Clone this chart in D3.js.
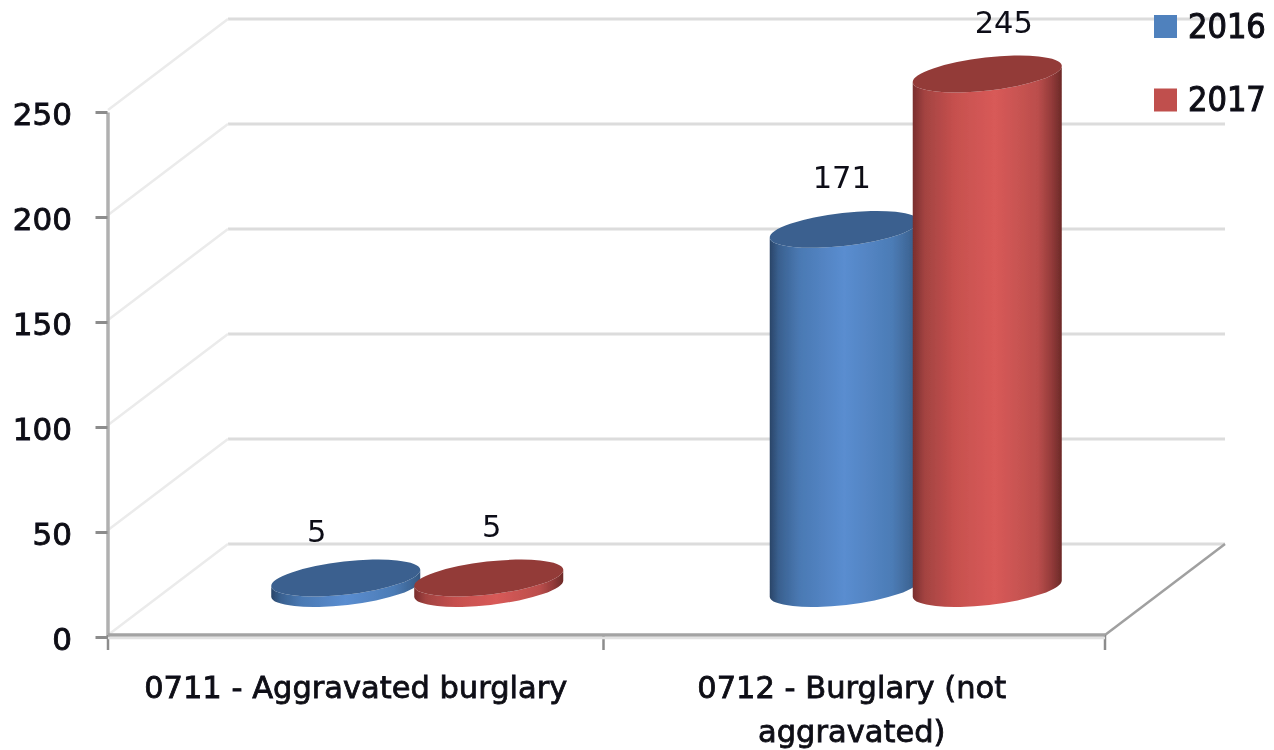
<!DOCTYPE html>
<html><head><meta charset="utf-8">
<script src="https://cdn.jsdelivr.net/npm/d3@7/dist/d3.min.js"></script>
<style>html,body{margin:0;background:#fff}svg{display:block}text{font-family:"DejaVu Sans",sans-serif;fill:#0a0a14}</style>
</head><body><svg id="c" width="1274" height="750"></svg>
<script>
const categories = ["0711 - Aggravated burglary", "0712 - Burglary (not aggravated)"];
const categoryLines = [["0711 - Aggravated burglary"], ["0712 - Burglary (not", "aggravated)"]];
const seriesNames = ["2016", "2017"];
const values2016 = [5, 171];
const values2017 = [5, 245];
const yTicks = [0, 50, 100, 150, 200, 250];
const colors = {
  "2016": {swatch:"#4f81bd", top:"#3b618f",
    stops:[[0,"#2a4568"],[.06,"#39608f"],[.2,"#4a79b3"],[.5,"#5a8dd0"],[.82,"#4c7cb6"],[.93,"#3f6899"],[1,"#34567f"]]},
  "2017": {swatch:"#c0504d", top:"#933b39",
    stops:[[0,"#7a2e2d"],[.08,"#a34341"],[.28,"#c6504e"],[.55,"#d85a58"],[.84,"#bb4e4c"],[.93,"#943b3a"],[1,"#6c2a28"]]}
};

const svg = d3.select("#c");
const depth = {x:120, y:-91};
const y = d3.scaleLinear().domain([0,250]).range([635,110]);
const x = d3.scaleLinear().domain([0,1,2]).range([108,603.5,1105]);
const x0 = x(0), x1 = x(2);
const xs = d3.scaleBand().domain(seriesNames).range([-143,143]);
const rx = 75, ry = 16.5, tilt = -6.5;

const defs = svg.append("defs");
defs.append("filter").attr("id","soft").append("feGaussianBlur").attr("stdDeviation",0.7);
defs.append("filter").attr("id","softT").append("feGaussianBlur").attr("stdDeviation",0.45);
seriesNames.forEach(s=>{
  const g = defs.append("linearGradient").attr("id","g"+s);
  colors[s].stops.forEach(d=>g.append("stop").attr("offset",d[0]).attr("stop-color",d[1]));
});

const marks = svg.append("g").attr("filter","url(#soft)");
const texts = svg.append("g").attr("filter","url(#softT)");

// walls
const grid = marks.append("g");
yTicks.forEach(t=>{
  grid.append("line").attr("x1",x0+depth.x).attr("x2",x1+depth.x)
    .attr("y1",y(t)+depth.y).attr("y2",y(t)+depth.y).attr("stroke","#dcdcdc").attr("stroke-width",3);
  grid.append("line").attr("x1",x0).attr("y1",y(t))
    .attr("x2",x0+depth.x).attr("y2",y(t)+depth.y).attr("stroke","#ebebeb").attr("stroke-width",2.5);
});
grid.append("line").attr("x1",x1).attr("y1",y(0))
  .attr("x2",x1+depth.x).attr("y2",y(0)+depth.y).attr("stroke","#a0a0a0").attr("stroke-width",2.5);

// axes
const axisY = d3.axisLeft(y).tickValues(yTicks).tickSizeInner(12).tickSizeOuter(0);
const gy = marks.append("g").attr("transform",`translate(107.5,2)`).call(axisY);
gy.selectAll("text").remove();
gy.selectAll("line").attr("stroke","#8c8c8c").attr("stroke-width",3);
gy.select(".domain").attr("stroke","#b0b0b0").attr("stroke-width",3.5);
x.domain().forEach(i=>marks.append("line").attr("x1",x(i)).attr("x2",x(i)).attr("y1",y(0)).attr("y2",y(0)+15)
  .attr("stroke","#8c8c8c").attr("stroke-width",2.5));
marks.append("line").attr("x1",x0).attr("x2",x1).attr("y1",y(0)).attr("y2",y(0))
  .attr("stroke","#a3a3a3").attr("stroke-width",3.5);
marks.append("line").attr("x1",x0).attr("x2",x1).attr("y1",y(0)+3).attr("y2",y(0)+3)
  .attr("stroke","#e2e2e2").attr("stroke-width",2.5);

texts.selectAll("text.yt").data(yTicks).join("text").attr("class","yt")
  .attr("x",72).attr("y",d=>y(d)+15).attr("text-anchor","end")
  .attr("font-size",31).attr("stroke","#0a0a14").attr("stroke-width",0.9).text(d=>d);

// cylinders
const rad = tilt*Math.PI/180, cx = Math.cos(rad)*rx, cy = Math.sin(rad)*rx;
const labelDx = [[-29,3],[-2.5,16.5]];   // layout only: label nudges per category/series
const baseY = y(0)+depth.y/2-1;
const all = [values2016, values2017];
categories.forEach((cat,ci)=>{
  const center = x(ci+0.5);
  seriesNames.forEach((s,si)=>{
    const v = all[si][ci];
    const mx = center + depth.x/2 + 1.5 + xs(s)+xs.bandwidth()/2;
    const h = y(0)-y(v);
    const top = baseY-h, bot = baseY;
    const body = `M${mx-cx},${top-cy} L${mx-cx},${bot-cy} A${rx},${ry} ${tilt} 0 0 ${mx+cx},${bot+cy} L${mx+cx},${top+cy} A${rx},${ry} ${tilt} 0 1 ${mx-cx},${top-cy} Z`;
    marks.append("path").attr("d",body).attr("fill",`url(#g${s})`);
    marks.append("ellipse").attr("cx",mx).attr("cy",top).attr("rx",rx).attr("ry",ry)
      .attr("transform",`rotate(${tilt} ${mx} ${top})`).attr("fill",colors[s].top);
    texts.append("text").attr("x",mx+labelDx[ci][si]).attr("y",top-(v===5&&si===0?36:41)).attr("text-anchor","middle")
      .attr("font-size",30.5).text(v);
  });
});

// category labels
categories.forEach((cat,ci)=>{
  categoryLines[ci].forEach((ln,li)=>{
    texts.append("text").attr("x",x(ci+0.5)-(ci?2.5:0)).attr("y",698+li*44).attr("text-anchor","middle")
      .attr("font-size",30.5).attr("stroke","#0a0a14").attr("stroke-width",0.8).text(ln);
  });
});

// legend
const legY = d3.scalePoint().domain(seriesNames).range([26.5,100]);
seriesNames.forEach(s=>{
  marks.append("rect").attr("x",1154).attr("y",legY(s)-11.5).attr("width",23).attr("height",23).attr("fill",colors[s].swatch);
  texts.append("text").attr("x",1188).attr("y",legY(s)+11).attr("font-size",34)
    .style("font-family",'"DejaVu Sans Condensed","DejaVu Sans",sans-serif')
    .attr("stroke","#0a0a14").attr("stroke-width",1).text(s);
});
</script></body></html>
